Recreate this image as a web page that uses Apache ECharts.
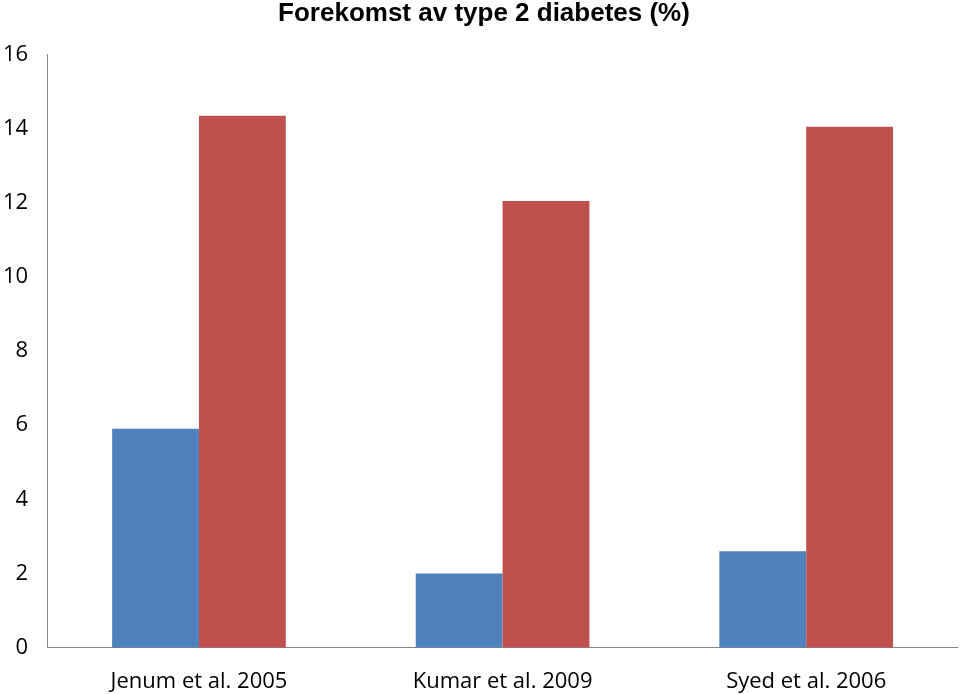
<!DOCTYPE html>
<html>
<head>
<meta charset="utf-8">
<script src="https://cdn.jsdelivr.net/npm/echarts@6/dist/echarts.min.js"></script>
<style>html,body{margin:0;padding:0;background:#fff}#c{width:960px;height:694px}</style>
</head>
<body>
<div id="c"></div>
<script>
const categories = ['Jenum et al. 2005', 'Kumar et al. 2009', 'Syed et al. 2006'];
const seriesA = [5.9, 2.0, 2.6];
const seriesB = [14.35, 12.05, 14.05];
const yTicks = [0, 2, 4, 6, 8, 10, 12, 14, 16];

const chart = echarts.init(document.getElementById('c'));
chart.setOption({
  animation: false,
  backgroundColor: '#ffffff',
  title: {
    text: 'Forekomst av type 2 diabetes (%)',
    left: 484, textAlign: 'center', top: 1, padding: 0,
    textStyle: { fontFamily: 'Liberation Sans', fontWeight: 'bold', fontSize: 26, color: '#000' }
  },
  grid: { left: 41, right: 2, top: 54.5, bottom: 46.5, containLabel: false },
  xAxis: {
    type: 'category', data: categories,
    axisLine: { lineStyle: { color: '#868686', width: 1 } },
    axisTick: { show: false },
    axisLabel: { fontFamily: 'Open Sans', fontSize: 22, color: '#000', margin: 23 }
  },
  yAxis: {
    type: 'value', min: yTicks[0], max: yTicks[yTicks.length - 1], interval: 2,
    axisLine: { show: true, lineStyle: { color: '#868686', width: 1 } },
    axisTick: { show: false },
    splitLine: { show: false },
    axisLabel: { fontFamily: 'Open Sans', fontSize: 22, color: '#000', margin: 19 }
  },
  series: [
    { type: 'bar', data: seriesA, barWidth: '28.6%', barGap: '0%', itemStyle: { color: '#4F81BD' } },
    { type: 'bar', data: seriesB, barWidth: '28.6%', barGap: '0%', itemStyle: { color: '#C0504D' } }
  ]
});
</script>
</body>
</html>
